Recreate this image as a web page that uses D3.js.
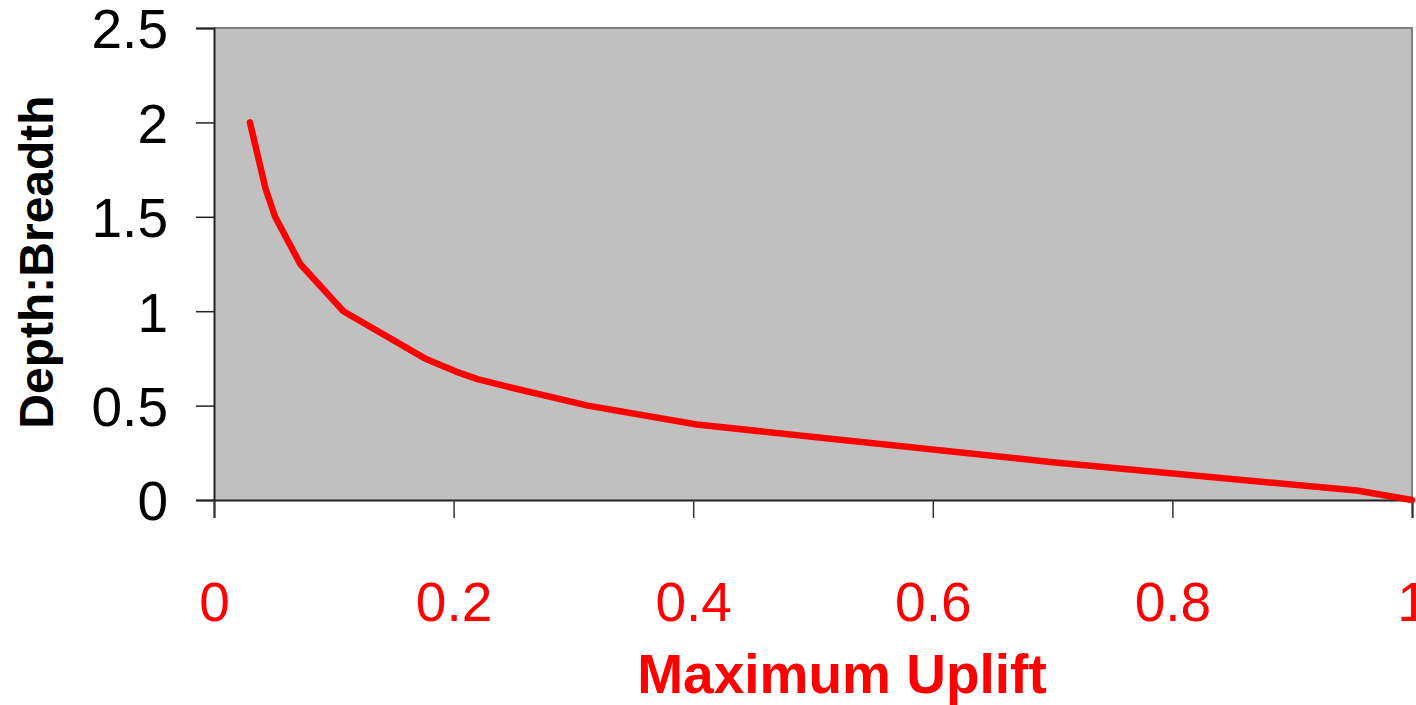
<!DOCTYPE html>
<html>
<head>
<meta charset="utf-8">
<script src="https://cdn.jsdelivr.net/npm/d3@7"></script>
<style>
  html, body { margin: 0; padding: 0; background: #fff; }
  svg { display: block; }
</style>
</head>
<body>
<svg id="chart" width="1416" height="705"></svg>
<script>
// Maximum uplift vs depth:breadth ratio
const upliftValues = [0.030, 0.043, 0.051, 0.072, 0.108, 0.176, 0.202, 0.220, 0.245, 0.312, 0.403, 0.700, 0.954, 1.0];
const depthBreadth = [2.0, 1.65, 1.5, 1.25, 1.0, 0.75, 0.68, 0.64, 0.60, 0.50, 0.40, 0.20, 0.05, 0.0];
const xTicks = [0, 0.2, 0.4, 0.6, 0.8, 1];
const yTicks = [0, 0.5, 1, 1.5, 2, 2.5];
const xTitle = "Maximum Uplift";
const yTitle = "Depth:Breadth";

const svg = d3.select("#chart");
const plot = { left: 214, right: 1412, top: 28, bottom: 500 };

const x = d3.scaleLinear().domain([0, 1]).range([plot.left, plot.right]);
const y = d3.scaleLinear().domain([0, 2.5]).range([plot.bottom, plot.top]);

// plot background
svg.append("rect")
  .attr("x", plot.left).attr("y", plot.top)
  .attr("width", plot.right - plot.left).attr("height", plot.bottom - plot.top)
  .attr("fill", "#c0c0c0");

// top and right frame
svg.append("path")
  .attr("d", `M${plot.left},${plot.top}H${plot.right}V${plot.bottom}`)
  .attr("fill", "none").attr("stroke", "#808080").attr("stroke-width", 2);

const font = "'Liberation Sans', Arial, sans-serif";

// y axis
const yAxis = svg.append("g")
  .attr("transform", `translate(${plot.left},0)`)
  .call(d3.axisLeft(y).tickValues(yTicks).tickSize(18).tickPadding(28)
    .tickFormat(d => d3.format("")(d)));
yAxis.select(".domain").attr("stroke", "#222").attr("stroke-width", 2);
yAxis.selectAll(".tick line").attr("stroke", "#222").attr("stroke-width", 1.5);
yAxis.selectAll(".tick text")
  .attr("font-family", font).attr("font-size", 55).attr("fill", "#000")
  .attr("dy", "0.36em");

// x axis
const xAxis = svg.append("g")
  .attr("transform", `translate(0,${plot.bottom})`)
  .call(d3.axisBottom(x).tickValues(xTicks).tickSize(18).tickPadding(64)
    .tickFormat(d => d3.format("")(d)));
xAxis.select(".domain").attr("stroke", "#222").attr("stroke-width", 2);
xAxis.selectAll(".tick line").attr("stroke", "#333").attr("stroke-width", 1.5);
xAxis.selectAll(".tick text")
  .attr("font-family", font).attr("font-size", 55).attr("fill", "#ff0000")
  .attr("dy", "0.71em");

// data line
const pts = upliftValues.map((u, i) => [u, depthBreadth[i]]);
svg.append("path")
  .datum(pts)
  .attr("d", d3.line().x(d => x(d[0])).y(d => y(d[1])))
  .attr("fill", "none")
  .attr("stroke", "#ff0000")
  .attr("stroke-width", 6.5)
  .attr("stroke-linecap", "round")
  .attr("stroke-linejoin", "round");

// axis titles
svg.append("text")
  .attr("x", 842).attr("y", 693)
  .attr("text-anchor", "middle")
  .attr("font-family", font).attr("font-weight", "bold").attr("font-size", 55)
  .attr("fill", "#ff0000")
  .text(xTitle);

svg.append("text")
  .attr("transform", "translate(53,262) rotate(-90)")
  .attr("text-anchor", "middle")
  .attr("font-family", font).attr("font-weight", "bold").attr("font-size", 48)
  .attr("fill", "#000")
  .text(yTitle);
</script>
</body>
</html>
